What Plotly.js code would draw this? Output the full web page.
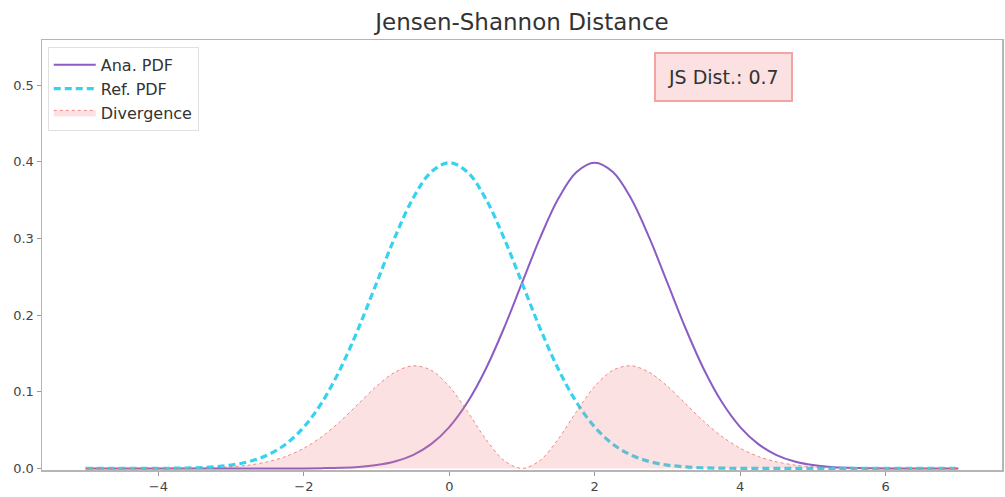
<!DOCTYPE html>
<html>
<head>
<meta charset="utf-8">
<script src="https://cdn.plot.ly/plotly-3.0.1.min.js"></script>
<style>html,body{margin:0;padding:0;background:#fff;}#chart{width:1005px;height:497px;}</style>
</head>
<body>
<div id="chart"></div>
<script>
const xs = [-5,-4.75,-4.5,-4.25,-4,-3.75,-3.5,-3.25,-3,-2.75,-2.5,-2.25,-2,-1.75,-1.5,-1.25,-1,-0.75,-0.5,-0.25,0,0.25,0.5,0.75,1,1.25,1.5,1.75,2,2.25,2.5,2.75,3,3.25,3.5,3.75,4,4.25,4.5,4.75,5,5.25,5.5,5.75,6,6.25,6.5,6.75,7];
const anaPdf = [0,0,0,0,0,0,0,0,0,0,0,0,0.0001,0.0004,0.0009,0.0020,0.0044,0.0091,0.0175,0.0317,0.0540,0.0863,0.1295,0.1826,0.2420,0.3011,0.3521,0.3867,0.3989,0.3867,0.3521,0.3011,0.2420,0.1826,0.1295,0.0863,0.0540,0.0317,0.0175,0.0091,0.0044,0.0020,0.0009,0.0004,0.0001,0,0,0,0];
const refPdf = [0,0,0,0,0.0001,0.0004,0.0009,0.0020,0.0044,0.0091,0.0175,0.0317,0.0540,0.0863,0.1295,0.1826,0.2420,0.3011,0.3521,0.3867,0.3989,0.3867,0.3521,0.3011,0.2420,0.1826,0.1295,0.0863,0.0540,0.0317,0.0175,0.0091,0.0044,0.0020,0.0009,0.0004,0.0001,0,0,0,0,0,0,0,0,0,0,0,0];
const divergence = [0,0,0,0,0.0001,0.0002,0.0004,0.0010,0.0022,0.0045,0.0087,0.0156,0.0264,0.0417,0.0614,0.0843,0.1073,0.1255,0.1340,0.1282,0.1071,0.0744,0.0386,0.0106,0,0.0106,0.0386,0.0744,0.1071,0.1282,0.1340,0.1255,0.1073,0.0843,0.0614,0.0417,0.0264,0.0156,0.0087,0.0045,0.0022,0.0010,0.0004,0.0002,0.0001,0,0,0,0];
const seriesNames = ["Ana. PDF", "Ref. PDF", "Divergence"];
const titleText = "Jensen-Shannon Distance";
const annotationText = "JS Dist.: 0.7";
const xTicks = [-4,-2,0,2,4,6];
const yTicks = [0,0.1,0.2,0.3,0.4,0.5];

const traces = [
  {x: xs, y: anaPdf, name: seriesNames[0], type: "scatter", mode: "lines",
   line: {color: "#8a5cc4", width: 2, shape: "spline", smoothing: 1}},
  {x: xs, y: refPdf, name: seriesNames[1], type: "scatter", mode: "lines",
   line: {color: "#35d3ef", width: 3.2, dash: "7px,4px", shape: "spline", smoothing: 1}},
  {x: xs, y: divergence, name: seriesNames[2], type: "scatter", mode: "lines",
   fill: "tozeroy", fillcolor: "rgba(240,128,128,0.24)",
   line: {color: "rgba(235,100,100,0.75)", width: 1, dash: "dot", shape: "spline", smoothing: 0.9}}
];

const axisCommon = {
  showgrid: false, zeroline: false, showline: true, mirror: true,
  linecolor: "#b5b5b5", linewidth: 1.5,
  ticks: "outside", ticklen: 4, tickcolor: "#999", tickwidth: 1,
  tickfont: {family: "DejaVu Sans", size: 13, color: "#444"}
};

const layout = {
  width: 1005, height: 497,
  margin: {l: 42, r: 3, t: 40, b: 27},
  paper_bgcolor: "#fff", plot_bgcolor: "#fff",
  title: {text: titleText, xref: "paper", x: 0.5, xanchor: "center", y: 0.955, yanchor: "middle",
          font: {family: "DejaVu Sans", size: 23, color: "#333"}},
  xaxis: Object.assign({}, axisCommon, {range: [-5.6, 7.6], tickvals: xTicks}),
  yaxis: Object.assign({}, axisCommon, {range: [-0.002, 0.559], tickvals: yTicks, tickformat: ".1f"}),
  showlegend: true,
  legend: {x: 0.006, y: 0.984, xanchor: "left", yanchor: "top",
           bgcolor: "#fff", bordercolor: "#e0e0e0", borderwidth: 1,
           font: {family: "DejaVu Sans", size: 16, color: "#333"}, itemwidth: 42},
  annotations: [{
    xref: "paper", yref: "paper", x: 0.71, y: 0.914, xanchor: "center", yanchor: "middle",
    text: annotationText, showarrow: false,
    font: {family: "DejaVu Sans", size: 19, color: "#333"},
    bgcolor: "#fbe1e1", bordercolor: "#f2a3a3", borderwidth: 2, borderpad: 12
  }]
};

Plotly.newPlot("chart", traces, layout, {displayModeBar: false, staticPlot: true});
</script>
</body>
</html>
